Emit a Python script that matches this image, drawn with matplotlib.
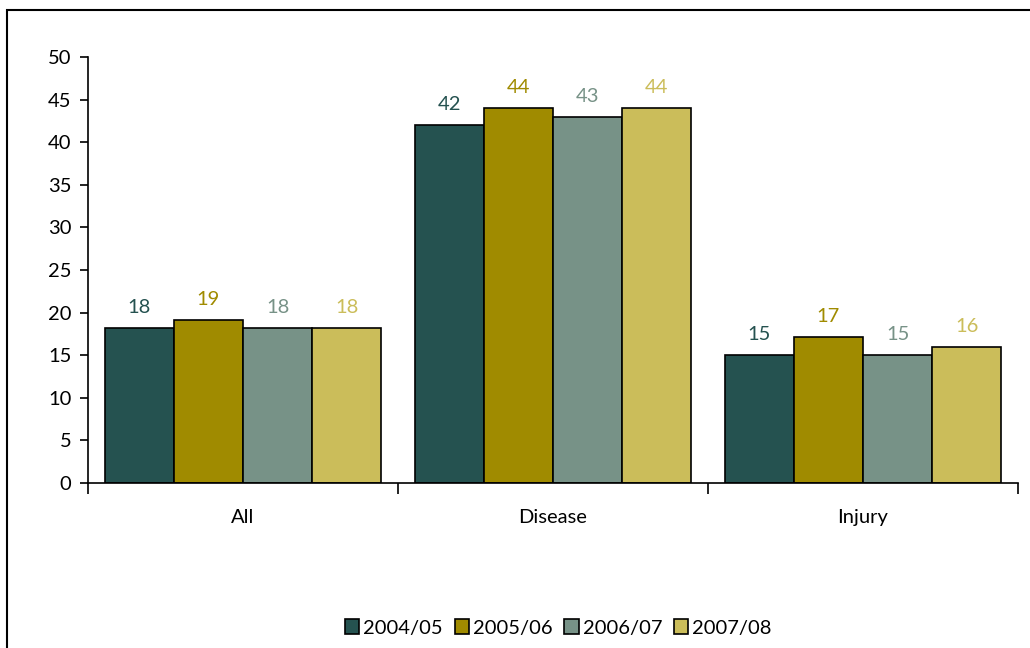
import numpy as np
import matplotlib.pyplot as plt
import matplotlib.patches as mpatches

plt.rcParams['font.family'] = ['Lato', 'DejaVu Sans']

categories = ['All', 'Disease', 'Injury']
years = ['2004/05', '2005/06', '2006/07', '2007/08']
values = [
    [18.2, 42.0, 15.0],   # 2004/05
    [19.1, 44.0, 17.1],   # 2005/06
    [18.2, 43.0, 15.0],   # 2006/07
    [18.2, 44.0, 16.0],   # 2007/08
]
colors = ['#255250', '#A08B00', '#779287', '#CBBD5A']

fig = plt.figure(figsize=(10.3, 6.48), dpi=100)
# outer frame of the chart area
fig.patches.append(mpatches.Rectangle((7 / 1030, -0.1), 1.2, 1 - 10 / 648 + 0.1,
                                      transform=fig.transFigure, fill=False,
                                      edgecolor='black', linewidth=1.5))

ax = fig.add_axes([88 / 1030, 1 - 483 / 648, 930 / 1030, 426 / 648])

x = np.arange(len(categories))
w = 0.223
for i, (yr, vals) in enumerate(zip(years, values)):
    pos = x + (i - 1.5) * w
    bars = ax.bar(pos, vals, width=w, color=colors[i], edgecolor='black',
                  linewidth=1.2, label=yr)
    for b, v in zip(bars, vals):
        ax.text(b.get_x() + b.get_width() / 2, v + 1.4, '%.0f' % v,
                ha='center', va='bottom', color=colors[i], fontsize=14.5)

ax.set_xlim(-0.5, 2.5)
ax.set_ylim(0, 50)
ax.set_yticks(range(0, 51, 5))
ax.set_xticks([-0.5, 0.5, 1.5, 2.5])
ax.set_xticklabels([])
ax.set_xticks(x, minor=True)
ax.set_xticklabels(categories, minor=True)
ax.tick_params(axis='x', which='minor', length=0, pad=19, labelsize=14.5)
ax.tick_params(axis='x', which='major', length=8, width=1.2, direction='out')
ax.tick_params(axis='y', length=6, width=1.2, direction='out', labelsize=14.5, pad=6)
for s in ['top', 'right']:
    ax.spines[s].set_visible(False)
for s in ['left', 'bottom']:
    ax.spines[s].set_linewidth(1.2)

fig.legend(loc='center', bbox_to_anchor=(0.542, 1 - 628 / 648), ncol=4,
           frameon=False, fontsize=14.5, handlelength=0.7, handleheight=0.7,
           handletextpad=0.2, columnspacing=0.6)

fig.savefig('out.png', dpi=100)
